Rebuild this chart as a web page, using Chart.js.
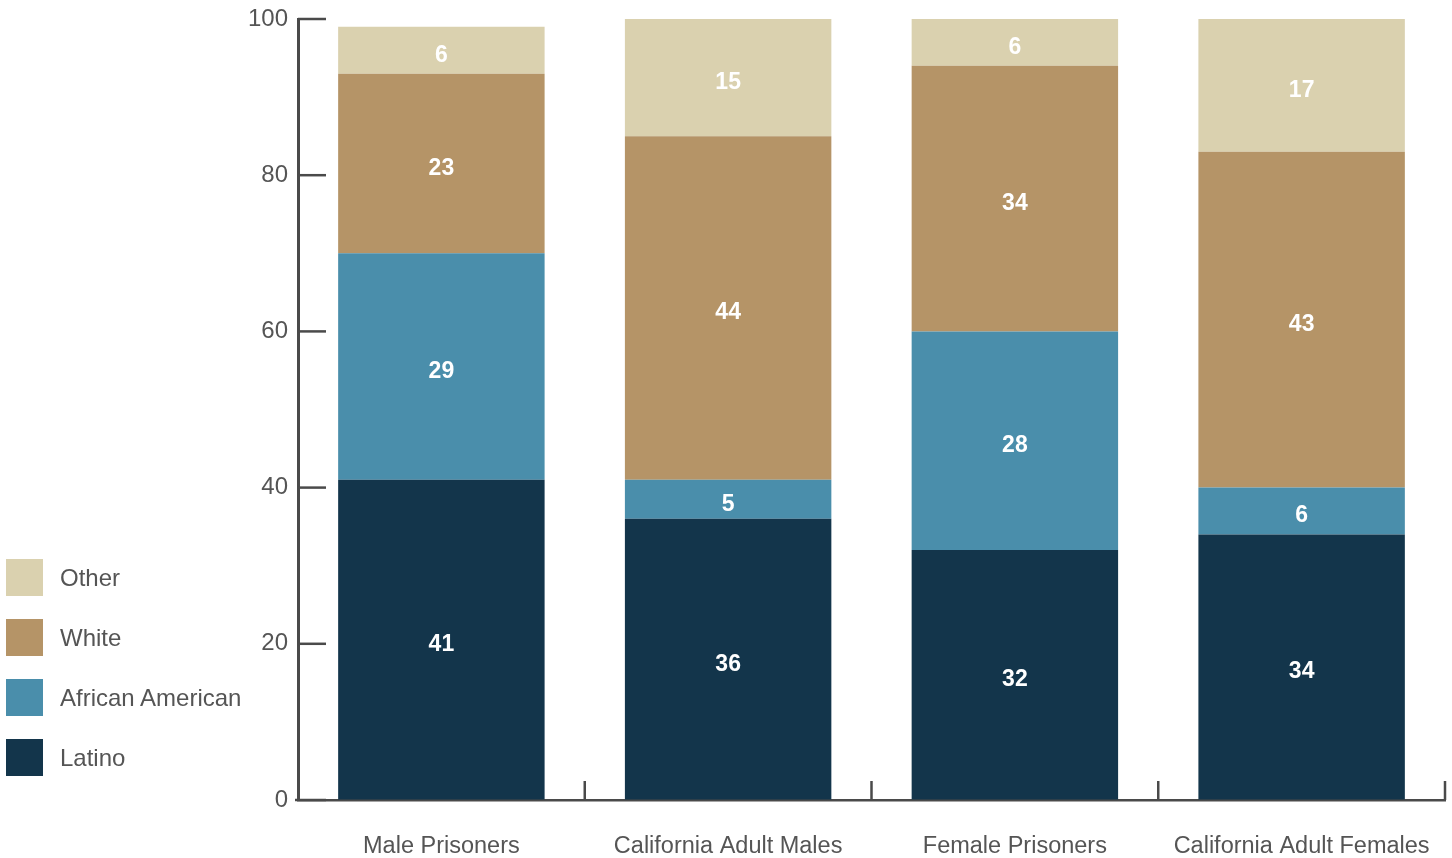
<!DOCTYPE html>
<html>
<head>
<meta charset="utf-8">
<script src="https://cdn.jsdelivr.net/npm/chart.js@4.4.1/dist/chart.umd.min.js"></script>
<style>
  html, body { margin: 0; padding: 0; background: #fff; }
  #wrap { position: relative; width: 1452px; height: 858px; }
  #legend { position: absolute; left: 6px; top: 559px; font-family: "Liberation Sans", Arial, sans-serif; font-size: 24px; color: #555; }
  .item { display: flex; align-items: center; height: 37px; margin-bottom: 23px; }
  .box { width: 37px; height: 37px; margin-right: 17px; }
</style>
</head>
<body>
<div id="wrap">
  <canvas id="chart" width="1452" height="858"></canvas>
  <div id="legend"></div>
</div>
<script>
const categories = ['Male Prisoners', 'California Adult Males', 'Female Prisoners', 'California Adult Females'];
const latino = [41, 36, 32, 34];
const africanAmerican = [29, 5, 28, 6];
const white = [23, 44, 34, 43];
const other = [6, 15, 6, 17];
const yTicks = [0, 20, 40, 60, 80, 100];

const colors = {
  latino: '#13354b',
  africanAmerican: '#4a8eab',
  white: '#b59467',
  other: '#dad1af'
};

const axisColor = '#4a4a4a';

// white numbers in the middle of each segment
const segmentLabels = {
  id: 'segmentLabels',
  afterDatasetsDraw(chart) {
    const ctx = chart.ctx;
    ctx.save();
    ctx.fillStyle = '#fff';
    ctx.font = 'bold 23px "Liberation Sans", Arial, sans-serif';
    ctx.textAlign = 'center';
    ctx.textBaseline = 'middle';
    chart.data.datasets.forEach((ds, i) => {
      chart.getDatasetMeta(i).data.forEach((bar, j) => {
        const mid = (bar.y + bar.base) / 2 + 5;
        ctx.fillText(ds.data[j], bar.x, mid);
      });
    });
    ctx.restore();
  }
};

// ticks pointing into the plot area
const innerTicks = {
  id: 'innerTicks',
  afterDraw(chart) {
    const ctx = chart.ctx;
    const area = chart.chartArea;
    const x = chart.scales.x;
    const y = chart.scales.y;
    ctx.save();
    ctx.strokeStyle = axisColor;
    ctx.lineWidth = 2.5;
    yTicks.forEach(v => {
      const py = y.getPixelForValue(v);
      ctx.beginPath();
      ctx.moveTo(area.left, py);
      ctx.lineTo(area.left + 28, py);
      ctx.stroke();
    });
    const step = x.getPixelForValue(1) - x.getPixelForValue(0);
    for (let i = 0; i < categories.length; i++) {
      const px = x.getPixelForValue(i) + step / 2;
      ctx.beginPath();
      ctx.moveTo(px, area.bottom);
      ctx.lineTo(px, area.bottom - 19);
      ctx.stroke();
    }
    ctx.beginPath();
    ctx.moveTo(area.left - 3, area.bottom);
    ctx.lineTo(area.left, area.bottom);
    ctx.stroke();
    ctx.restore();
  }
};

const datasets = [
  { label: 'Latino', data: latino, backgroundColor: colors.latino },
  { label: 'African American', data: africanAmerican, backgroundColor: colors.africanAmerican },
  { label: 'White', data: white, backgroundColor: colors.white },
  { label: 'Other', data: other, backgroundColor: colors.other }
];

new Chart(document.getElementById('chart'), {
  type: 'bar',
  data: { labels: categories, datasets: datasets },
  options: {
    responsive: false,
    animation: false,
    layout: { padding: { top: 19, right: 7, bottom: 0, left: 0 } },
    datasets: { bar: { barPercentage: 0.72, categoryPercentage: 1 } },
    plugins: {
      legend: { display: false },
      tooltip: { enabled: false }
    },
    scales: {
      x: {
        stacked: true,
        grid: { drawOnChartArea: false, drawTicks: true, tickLength: 22, color: 'rgba(0,0,0,0)' },
        border: { display: true, color: axisColor, width: 2.5 },
        ticks: {
          padding: 10,
          color: '#555',
          font: { family: '"Liberation Sans", Arial, sans-serif', size: 23.5 }
        },
        afterFit(scale) { scale.height = 58; }
      },
      y: {
        stacked: true,
        min: 0,
        max: 100,
        grid: { drawOnChartArea: false, drawTicks: true, tickLength: 10, color: 'rgba(0,0,0,0)' },
        border: { display: true, color: axisColor, width: 3 },
        ticks: {
          stepSize: 20,
          padding: 0,
          color: '#555',
          font: { family: '"Liberation Sans", Arial, sans-serif', size: 24 }
        },
        afterFit(scale) { scale.width = 298; }
      }
    }
  },
  plugins: [segmentLabels, innerTicks]
});

// legend, top to bottom
const legend = document.getElementById('legend');
datasets.slice().reverse().forEach(ds => {
  const item = document.createElement('div');
  item.className = 'item';
  const box = document.createElement('div');
  box.className = 'box';
  box.style.background = ds.backgroundColor;
  const txt = document.createElement('span');
  txt.textContent = ds.label;
  item.appendChild(box);
  item.appendChild(txt);
  legend.appendChild(item);
});
</script>
</body>
</html>
